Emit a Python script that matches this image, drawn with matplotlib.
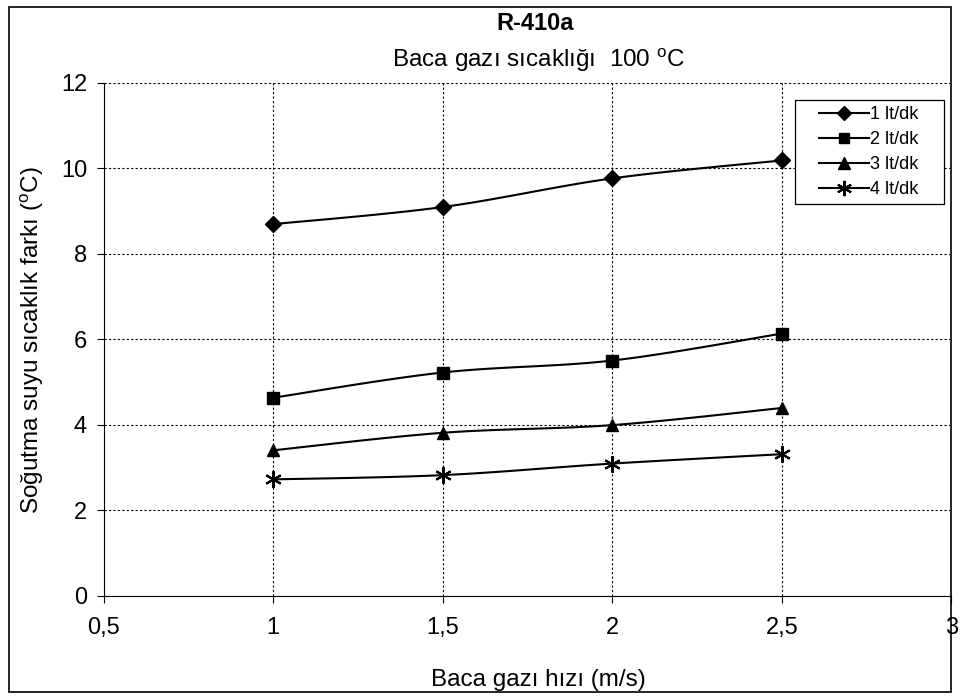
import matplotlib.pyplot as plt
import numpy as np
from matplotlib.patches import Rectangle

plt.rcParams['font.family'] = ['Liberation Sans', 'DejaVu Sans']
plt.rcParams['mathtext.fontset'] = 'custom'
plt.rcParams['mathtext.rm'] = 'Liberation Sans'
plt.rcParams['mathtext.it'] = 'Liberation Sans'

x = [1.0, 1.5, 2.0, 2.5]
s1 = [8.69, 9.09, 9.76, 10.18]
s2 = [4.63, 5.22, 5.50, 6.13]
s3 = [3.40, 3.81, 3.99, 4.39]
s4 = [2.72, 2.82, 3.09, 3.31]
labels = ['1 lt/dk', '2 lt/dk', '3 lt/dk', '4 lt/dk']
markers = ['D', 's', '^', (6, 2, 0)]
msizes = [8, 8, 9, 12]


def smooth(xs, ys, n=30):
    # Excel-style smoothed line (Bezier through points, tension 1/6)
    p = np.column_stack([xs, ys]).astype(float)
    ext = np.vstack([p[0], p, p[-1]])
    out = []
    t = np.linspace(0, 1, n)[:, None]
    for i in range(len(p) - 1):
        p0, p3 = ext[i + 1], ext[i + 2]
        c1 = p0 + (ext[i + 2] - ext[i]) / 6
        c2 = p3 - (ext[i + 3] - ext[i + 1]) / 6
        seg = ((1 - t) ** 3) * p0 + 3 * ((1 - t) ** 2) * t * c1 + 3 * (1 - t) * t ** 2 * c2 + t ** 3 * p3
        out.append(seg)
    seg = np.vstack(out)
    return seg[:, 0], seg[:, 1]


fig = plt.figure(figsize=(9.6, 7), dpi=100)
fig.patches.append(Rectangle((0.009, 0.011), 0.982, 0.979, transform=fig.transFigure,
                             fill=False, edgecolor='black', linewidth=1.2))
ax = fig.add_axes([0.108, 0.149, 0.883, 0.733])

for ys, lab, m, ms in zip([s1, s2, s3, s4], labels, markers, msizes):
    sx, sy = smooth(x, ys)
    ax.plot(sx, sy, color='black', linewidth=1.5)
    ax.plot(x, ys, linestyle='none', marker=m, color='black', markersize=ms,
            markeredgewidth=1.5 if m == markers[3] else 1)
    ax.plot([], [], color='black', linewidth=1.5, marker=m, markersize=ms - 1,
            markeredgewidth=1.5 if m == markers[3] else 1, label=lab)

ax.set_xlim(0.5, 3)
ax.set_ylim(0, 12)
ax.set_xticks([0.5, 1, 1.5, 2, 2.5, 3])
ax.set_xticklabels(['0,5', '1', '1,5', '2', '2,5', '3'])
ax.set_yticks(range(0, 13, 2))
ax.grid(True, color='black', linestyle=(0, (2, 2)), linewidth=0.8)
ax.spines['top'].set_visible(False)
ax.spines['right'].set_visible(False)
ax.tick_params(labelsize=17, length=5, direction='out')
ax.tick_params(axis='x', pad=10)
ax.tick_params(axis='y', pad=7)

fig.text(0.557, 0.966, 'R-410a', ha='center', va='center', fontsize=17, fontweight='bold')
fig.text(0.561, 0.913, r'Baca gazı sıcaklığı  100 $^\mathrm{o}$C', ha='center', va='center', fontsize=17.5)
fig.text(0.561, 0.028, 'Baca gazı hızı (m/s)', ha='center', va='center', fontsize=17.5)
fig.text(0.034, 0.514, r'Soğutma suyu sıcaklık farkı ($^\mathrm{o}$C)', ha='center', va='center',
         rotation=90, fontsize=17.5)

# legend without its own frame; a wider white box is drawn behind it (Excel-like padding)
leg = ax.legend(loc='upper right', bbox_to_anchor=(0.9717, 0.972), fontsize=13, frameon=False,
                handlelength=2.8, handletextpad=0.05, labelspacing=0.45, borderpad=0.0)
fig.canvas.draw()
bb = leg.get_window_extent()
box = Rectangle((bb.x0 - 24, bb.y0 - 6), bb.width + 50, bb.height + 12,
                transform=None, facecolor='white', edgecolor='black', linewidth=0.9,
                zorder=4.5, clip_on=False)
ax.add_artist(box)

fig.savefig('out.png', dpi=100)
